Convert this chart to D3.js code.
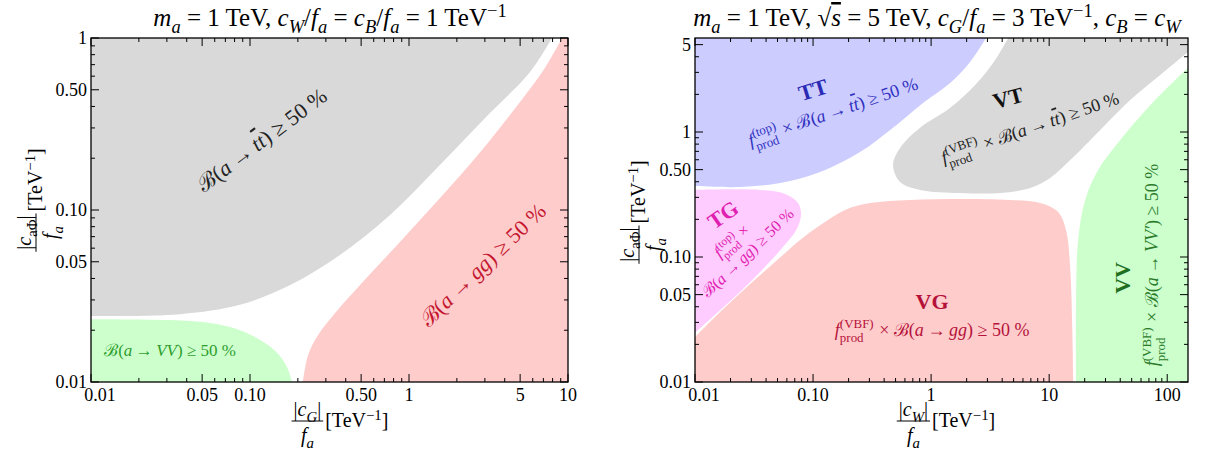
<!DOCTYPE html>
<html>
<head>
<meta charset="utf-8">
<script src="https://cdn.jsdelivr.net/npm/d3@7"></script>
<style>
body { margin: 0; background: #fff; }
svg text { font-family: "Liberation Serif", "DejaVu Serif", serif; white-space: pre; }
</style>
</head>
<body>
<script>
// ---- left panel: m_a = 1 TeV, cW/fa = cB/fa = 1 ----
var leftXTicks = [0.01, 0.05, 0.1, 0.5, 1, 5, 10];
var leftXLabels = ["0.01", "0.05", "0.10", "0.50", "1", "5", "10"];
var leftYTicks = [0.01, 0.05, 0.1, 0.5, 1];
var leftYLabels = ["0.01", "0.05", "0.10", "0.50", "1"];

// boundaries of the >= 50% regions, [|cG|/fa, |caPhi|/fa]
var grayTT = [[0.01,0.0242],[0.0363,0.0248],[0.0865,0.0281],[0.179,0.0366],[0.368,0.0547],
              [0.760,0.0935],[1.57,0.183],[3.23,0.366],[5.77,0.634],[7.93,1]];
var redGG = [[0.215,0.01],[0.232,0.01436],[0.268,0.01875],[0.343,0.0252],[0.492,0.0366],
             [0.877,0.0652],[1.567,0.1175],[2.80,0.217],[4.99,0.425],[7.16,0.670],[9.17,1]];
var greenVV = [[0.01,0.0232],[0.0314,0.0229],[0.056,0.0220],[0.0865,0.0200],[0.119,0.0173],
               [0.150,0.0146],[0.171,0.0122],[0.184,0.01]];

// ---- right panel: sqrt(s) = 5 TeV, cG/fa = 3 ----
var rightXTicks = [0.01, 0.1, 1, 10, 100];
var rightXLabels = ["0.01", "0.10", "1", "10", "100"];
var rightYTicks = [0.01, 0.05, 0.1, 0.5, 1, 5];
var rightYLabels = ["0.01", "0.05", "0.10", "0.50", "1", "5"];

// [|cW|/fa, |caPhi|/fa]
var blueTT = [[0.01,0.370],[0.0241,0.363],[0.0525,0.391],[0.1146,0.479],[0.250,0.692],
              [0.450,1.04],[0.855,1.71],[1.45,2.47],[2.14,3.63],[2.92,5.65]];
var grayVT = [[4.50,5.65],[3.49,3.77],[2.36,2.38],[1.45,1.56],[0.807,1.08],[0.546,0.745],
              [0.476,0.544],[0.546,0.398],[0.807,0.344],[1.76,0.325],[3.85,0.325],[6.90,0.356],
              [10.2,0.429],[15.1,0.597],[27.1,1.04],[48.6,1.80],[87.3,2.86],[150,4.37]];
var pinkTG = [[0.01,0.344],[0.0356,0.344],[0.0579,0.319],[0.0746,0.270],[0.0791,0.217],
              [0.0718,0.164],[0.0546,0.118],[0.0370,0.0787],[0.0241,0.0525],[0.0157,0.0363],[0.01,0.0247]];
var redVG = [[0.01,0.0229],[0.0163,0.0363],[0.0281,0.0586],[0.0476,0.0912],[0.0776,0.137],
             [0.119,0.1837],[0.1866,0.238],[0.304,0.270],[0.664,0.286],[1.76,0.291],[4.67,0.286],
             [8.39,0.270],[11.9,0.229],[13.9,0.164],[15.1,0.0787],[15.7,0.0261],[16.0,0.01]];
var greenVV2 = [[16.9,0.01],[16.9,0.0453],[17.6,0.137],[20.2,0.286],[26.0,0.497],[40.0,0.863],
                [71.8,1.64],[117,2.61],[150,3.25]];

var svg = d3.select("body").append("svg").attr("width", 1206).attr("height", 461);

// text with italic / sub / sup pieces, parts = [[text, "i sub"], ...]
function rich(g, parts, fs) {
  var t = g.append("text").attr("font-size", fs);
  var cur = 0, pendDx = 0;
  parts.forEach(function(p) {
    var k = (p[1] || "").split(" ");
    var has = function(s) { return k.indexOf(s) >= 0; };
    if (has("ss")) {
      var bits = p[0].split("|");
      var up = -0.42 * fs, down = 0.36 * fs;
      var a = t.append("tspan").text(bits[0]).attr("font-size", fs * 0.72).attr("dy", up - cur);
      if (pendDx) a.attr("dx", pendDx);
      var l1 = a.node().getComputedTextLength();
      var b = t.append("tspan").text(bits[1]).attr("font-size", fs * 0.72)
        .attr("dx", -l1).attr("dy", down - up);
      var l2 = b.node().getComputedTextLength();
      cur = down;
      pendDx = Math.max(0, l1 - l2) + 1;
      return;
    }
    var target = 0, size = fs;
    if (has("sub")) { target = 0.28 * fs; size = fs * 0.74; }
    if (has("sup")) { target = -0.36 * fs; size = fs * 0.74; }
    var ts = t.append("tspan").text(p[0]).attr("dy", target - cur).attr("font-size", size);
    if (pendDx) ts.attr("dx", pendDx);
    pendDx = 0;
    if (has("i")) ts.attr("font-style", "italic");
    if (has("b")) ts.attr("font-weight", "bold");
    if (has("o")) ts.attr("text-decoration", "overline");
    cur = target;
  });
  return t;
}

// label drawn centred on (cx, cy), rotated
function note(parts, fs, cx, cy, rot, color) {
  var g = svg.append("g").attr("transform", "translate(" + cx + "," + cy + ") rotate(" + rot + ")");
  rich(g, parts, fs).attr("text-anchor", "middle").attr("y", fs * 0.33).attr("fill", color);
  return g;
}

// axis title as |c|/f_a [TeV^-1]
function fracTitle(numParts, cx, cy, rot) {
  var fs = 20;
  var outer = svg.append("g").attr("transform", "translate(" + cx + "," + cy + ") rotate(" + rot + ")");
  var g = outer.append("g");
  var num = rich(g, numParts, fs).attr("text-anchor", "middle");
  var den = rich(g, [["f", "i"], ["a", "i sub"]], fs).attr("text-anchor", "middle");
  var w = Math.max(num.node().getComputedTextLength(), den.node().getComputedTextLength()) + 4;
  num.attr("x", w / 2).attr("y", -5);
  den.attr("x", w / 2).attr("y", fs + 1);
  g.append("line").attr("x1", 0).attr("x2", w).attr("y1", 0).attr("y2", 0)
    .attr("stroke", "#000").attr("stroke-width", 1);
  var suf = rich(g, [["[TeV"], ["−1", "sup"], ["]"]], fs).attr("x", w + 2).attr("y", 6);
  var total = w + 2 + suf.node().getComputedTextLength();
  g.attr("transform", "translate(" + (-total / 2) + ",0)");
}

var curve = d3.line().curve(d3.curveCatmullRom.alpha(0.5));

function panel(p) {
  var x = d3.scaleLog().domain(p.xd).range([p.x0, p.x1]);
  var y = d3.scaleLog().domain(p.yd).range([p.y1, p.y0]);
  var g = svg.append("g");
  g.append("clipPath").attr("id", "clip" + p.id).append("rect")
    .attr("x", p.x0).attr("y", p.y0).attr("width", p.x1 - p.x0).attr("height", p.y1 - p.y0);
  var rg = g.append("g").attr("clip-path", "url(#clip" + p.id + ")");
  p.regions.forEach(function(r) {
    var d = curve(r.pts.map(function(q) { return [x(q[0]), y(q[1])]; }));
    r.corners.forEach(function(c) { d += "L" + x(c[0]) + "," + y(c[1]); });
    rg.append("path").attr("d", d + "Z").attr("fill", r.fill);
  });

  // ticks, inward on all four sides
  var isMajor = function(list, v) { return list.some(function(m) { return Math.abs(m / v - 1) < 1e-6; }); };
  var tg = g.append("g").attr("stroke", "#000").attr("stroke-width", 1);
  x.ticks().forEach(function(v) {
    if (v < p.xd[0] * 0.999 || v > p.xd[1] * 1.001) return;
    var L = isMajor(p.xt, v) ? 8 : 4;
    tg.append("line").attr("x1", x(v)).attr("x2", x(v)).attr("y1", p.y1).attr("y2", p.y1 - L);
    tg.append("line").attr("x1", x(v)).attr("x2", x(v)).attr("y1", p.y0).attr("y2", p.y0 + L);
  });
  y.ticks().forEach(function(v) {
    if (v < p.yd[0] * 0.999 || v > p.yd[1] * 1.001) return;
    var L = isMajor(p.yt, v) ? 8 : 4;
    tg.append("line").attr("y1", y(v)).attr("y2", y(v)).attr("x1", p.x0).attr("x2", p.x0 + L);
    tg.append("line").attr("y1", y(v)).attr("y2", y(v)).attr("x1", p.x1).attr("x2", p.x1 - L);
  });
  g.append("rect").attr("x", p.x0).attr("y", p.y0).attr("width", p.x1 - p.x0)
    .attr("height", p.y1 - p.y0).attr("fill", "none").attr("stroke", "#000").attr("stroke-width", 1.3);

  p.xt.forEach(function(v, i) {
    g.append("text").attr("x", x(v) + (i === 0 ? 9 : 0)).attr("y", p.y1 + 19).attr("text-anchor", "middle")
      .attr("font-size", 18).text(p.xl[i]);
  });
  p.yt.forEach(function(v, i) {
    g.append("text").attr("x", p.x0 - 4).attr("y", y(v) + 6).attr("text-anchor", "end")
      .attr("font-size", 18).text(p.yl[i]);
  });
  p.x = x; p.y = y;
  return p;
}

var L = panel({ id: "L", x0: 91, x1: 568, y0: 38, y1: 382, xd: [0.01, 10], yd: [0.01, 1],
  xt: leftXTicks, xl: leftXLabels, yt: leftYTicks, yl: leftYLabels,
  regions: [
    { pts: grayTT, corners: [[0.01, 1]], fill: "#d9d9d9" },
    { pts: redGG, corners: [[10, 1], [10, 0.01]], fill: "#ffcccc" },
    { pts: greenVV, corners: [[0.01, 0.01]], fill: "#ccffcc" }
  ] });

var R = panel({ id: "R", x0: 695, x1: 1188, y0: 38, y1: 382, xd: [0.01, 150], yd: [0.01, 5.65],
  xt: rightXTicks, xl: rightXLabels, yt: rightYTicks, yl: rightYLabels,
  regions: [
    { pts: blueTT, corners: [[0.01, 5.65]], fill: "#ccccff" },
    { pts: grayVT, corners: [[150, 5.65]], fill: "#d9d9d9" },
    { pts: pinkTG, corners: [], fill: "#ffccff" },
    { pts: redVG, corners: [[0.01, 0.01]], fill: "#ffcccc" },
    { pts: greenVV2, corners: [[150, 0.01]], fill: "#ccffcc" }
  ] });

// titles
var EQ = "\u2005=\u2005";
rich(svg, [["m", "i"], ["a", "i sub"], [EQ + "1 TeV, "], ["c", "i"], ["W", "i sub"], ["/"],
  ["f", "i"], ["a", "i sub"], [EQ], ["c", "i"], ["B", "i sub"], ["/"], ["f", "i"], ["a", "i sub"],
  [EQ + "1 TeV"], ["−1", "sup"]], 25).attr("x", 330).attr("y", 26).attr("text-anchor", "middle");
rich(svg, [["m", "i"], ["a", "i sub"], [EQ + "1 TeV, √"], ["s", "i o"], [EQ + "5 TeV, "],
  ["c", "i"], ["G", "i sub"], ["/"], ["f", "i"], ["a", "i sub"], [EQ + "3 TeV"], ["−1", "sup"], [", "],
  ["c", "i"], ["B", "i sub"], [EQ], ["c", "i"], ["W", "i sub"]], 25)
  .attr("x", 937).attr("y", 26).attr("text-anchor", "middle");

// axis titles
fracTitle([["|"], ["c", "i"], ["G", "i sub"], ["|"]], 340, 421, 0);
fracTitle([["|"], ["c", "i"], ["W", "i sub"], ["|"]], 946, 421, 0);
fracTitle([["|"], ["c", "i"], ["aΦ", "sub"], ["|"]], 36, 200, -90);
fracTitle([["|"], ["c", "i"], ["aΦ", "sub"], ["|"]], 639, 212, -90);

// region annotations (anchored in data space)
var AR = "\u2009→\u2009";
var tt = [["ℬ"], ["("], ["a", "i"], [AR], ["t", "i"], ["t", "i o"], [") ≥ 50 %"]];
var gg = [["ℬ"], ["("], ["a", "i"], [AR], ["gg", "i"], [") ≥ 50 %"]];
var vv = [["ℬ"], ["("], ["a", "i"], [AR], ["VV", "i"], [") ≥ 50 %"]];
note(tt, 22, L.x(0.119), L.y(0.255), -37, "#222");
note(gg, 22, L.x(2.92), L.y(0.0479), -44, "#c4162f");
note(vv, 17, L.x(0.0314), L.y(0.0153), 0, "#2e9e2e");

var fTop = [["f", "i"], ["(top)|prod", "ss"], [" × "]];
var fVBF = [["f", "i"], ["(VBF)|prod", "ss"], [" × "]];
note([["TT", "b"]], 22, R.x(0.1), R.y(2.17), -17, "#2a2ab5");
note(fTop.concat(tt), 18, R.x(0.1477), R.y(1.445), -19, "#3030c0");
note([["VT", "b"]], 22, R.x(4.5), R.y(1.87), -15, "#111");
note(fVBF.concat(tt), 18, R.x(6.9), R.y(1.08), -19, "#222");
note([["TG", "b"]], 22, R.x(0.0173), R.y(0.217), -35, "#e020b0");
note(fTop, 16, R.x(0.021), R.y(0.137), -42, "#e020b0");
note(gg, 16, R.x(0.0281), R.y(0.108), -44, "#e020b0");
note([["VG", "b"]], 22, R.x(1.02), R.y(0.0437), 0, "#b5123a");
note(fVBF.concat(gg), 18, R.x(1.02), R.y(0.0261), 0, "#b5123a");
note([["VV", "b"]], 22, R.x(42.4), R.y(0.068), -90, "#1f6e1f");
note(fVBF.concat([["ℬ"], ["("], ["a", "i"], [AR], ["VV′", "i"], [") ≥ 50 %"]]), 18,
  R.x(74.6), R.y(0.0863), -90, "#2a7a2a");
</script>
</body>
</html>
